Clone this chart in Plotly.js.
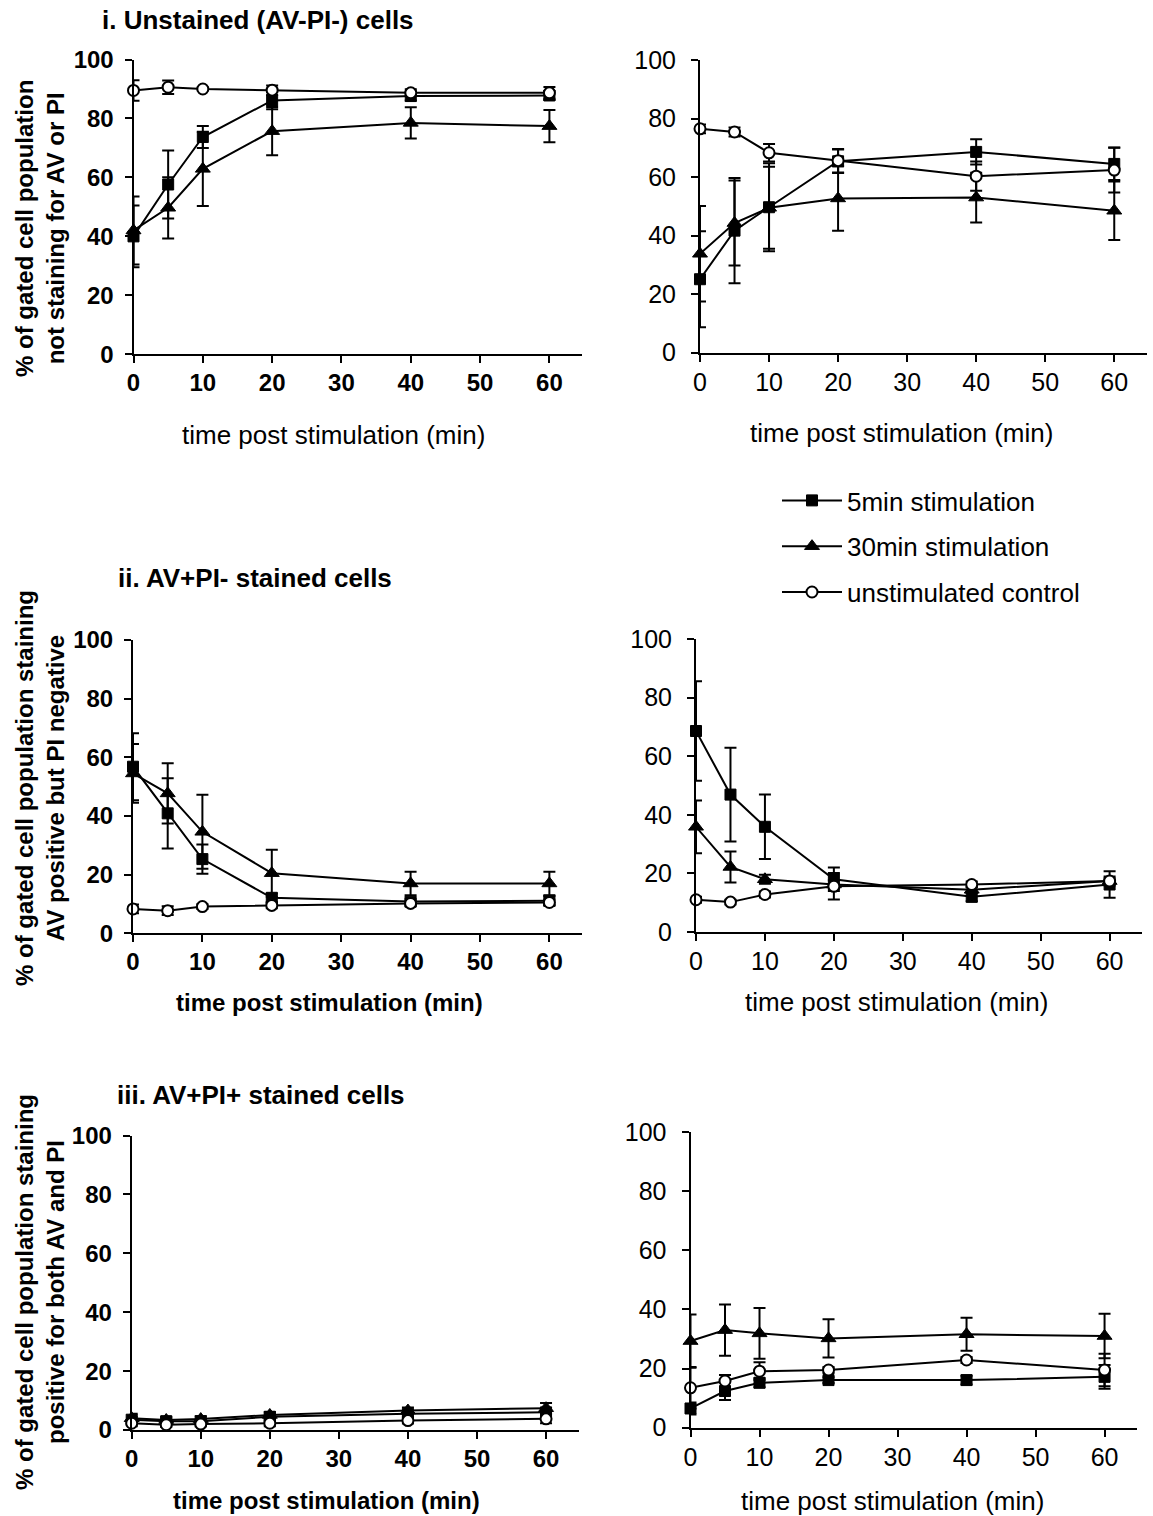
<!DOCTYPE html>
<html>
<head>
<meta charset="utf-8">
<script src="https://cdn.plot.ly/plotly-3.0.1.min.js"></script>
<style>html,body{margin:0;padding:0;background:#fff;}#chart{width:1153px;height:1516px;}</style>
</head>
<body>
<div id="chart"></div>
<script>
// ---- data ----
const times = [0, 5, 10, 20, 40, 60];
const seriesNames = ['5min stimulation', '30min stimulation', 'unstimulated control'];

// i. Unstained (AV-PI-) cells, left
const unstLeft5 = [40, 57.6, 73.7, 86.1, 87.6, 87.8];
const unstLeft5Err = [10.5, 11.5, 3.7, 3, 1.5, 1.5];
const unstLeft30 = [42, 49.7, 62.9, 75.7, 78.5, 77.4];
const unstLeft30Err = [11.5, 10.4, 12.6, 8.2, 5.3, 5.5];
const unstLeftCtl = [89.5, 90.6, 90, 89.6, 88.7, 88.7];
const unstLeftCtlErr = [3.5, 2.3, 0.5, 1.6, 1.2, 2];

// i. Unstained, right
const unstRight5 = [25.1, 41.7, 49.7, 65.4, 68.6, 64.5];
const unstRight5Err = [16.4, 18, 15, 4, 4.3, 5.5];
const unstRight30 = [33.8, 44.3, 49.5, 52.7, 53, 48.5];
const unstRight30Err = [16.3, 14.5, 14, 11, 8.5, 10];
const unstRightCtl = [76.5, 75.4, 68.3, 65.6, 60.3, 62.4];
const unstRightCtlErr = [1.5, 1.5, 3, 4, 5, 7.7];

// ii. AV+PI- stained cells, left
const avLeft5 = [56.8, 40.9, 25.3, 12.1, 10.8, 11.1];
const avLeft5Err = [11.4, 12, 5, 1.5, 1, 1.5];
const avLeft30 = [54.5, 47.7, 34.6, 20.5, 17, 17];
const avLeft30Err = [10, 10.3, 12.6, 8, 4, 4];
const avLeftCtl = [8.3, 7.7, 9.1, 9.5, 10.2, 10.5];
const avLeftCtlErr = [1.5, 1.5, 0.8, 1, 1, 1];

// ii. AV+PI-, right
const avRight5 = [68.6, 46.9, 35.9, 18.0, 12.0, 16.2];
const avRight5Err = [17, 16, 11, 4, 1.5, 4.5];
const avRight30 = [35.9, 22.2, 18.0, 16.2, 14.4, 17.4];
const avRight30Err = [9, 5.3, 1.5, 1.5, 1, 1.5];
const avRightCtl = [11.0, 10.2, 12.8, 15.6, 16.2, 17.4];
const avRightCtlErr = [1, 0.8, 1, 4.5, 1, 1];

// iii. AV+PI+ stained cells, left
const bothLeft5 = [3.5, 3, 3, 4.5, 5.5, 6];
const bothLeft5Err = [1, 0.8, 0.8, 1, 1, 1.5];
const bothLeft30 = [4.0, 3.4, 3.7, 5.1, 6.6, 7.4];
const bothLeft30Err = [1.5, 1, 1, 1, 1, 1.8];
const bothLeftCtl = [2.3, 1.8, 2, 2.3, 3.2, 3.8];
const bothLeftCtlErr = [1, 0.8, 0.8, 1, 1, 1.5];

// iii. AV+PI+, right
const bothRight5 = [6.5, 12.4, 15.2, 16.1, 16.1, 17.2];
const bothRight5Err = [2, 3, 1.5, 1, 1.5, 4];
const bothRight30 = [29.3, 33.0, 31.9, 30.2, 31.6, 31.0];
const bothRight30Err = [9, 8.7, 8.6, 6.5, 5.6, 7.5];
const bothRightCtl = [13.5, 15.8, 19.1, 19.5, 22.9, 19.5];
const bothRightCtlErr = [7, 2, 3, 1, 1, 5.5];

const yTicks = [0, 20, 40, 60, 80, 100];
const xTicks = [0, 10, 20, 30, 40, 50, 60];

// ---- layout helpers ----
const W = 1153, H = 1516;
const FONT = 'Liberation Sans, Arial, Helvetica, sans-serif';
const panels = [
  {x: [133.5, 582], y: [59.5, 354.3], d: [unstLeft5, unstLeft5Err, unstLeft30, unstLeft30Err, unstLeftCtl, unstLeftCtlErr], bold: true},
  {x: [700, 1146.7], y: [60, 352.7], d: [unstRight5, unstRight5Err, unstRight30, unstRight30Err, unstRightCtl, unstRightCtlErr], bold: false},
  {x: [133, 582], y: [640, 933.3], d: [avLeft5, avLeft5Err, avLeft30, avLeft30Err, avLeftCtl, avLeftCtlErr], bold: true},
  {x: [696, 1142], y: [639, 932], d: [avRight5, avRight5Err, avRight30, avRight30Err, avRightCtl, avRightCtlErr], bold: false},
  {x: [131.7, 578.5], y: [1135.5, 1430], d: [bothLeft5, bothLeft5Err, bothLeft30, bothLeft30Err, bothLeftCtl, bothLeftCtlErr], bold: true},
  {x: [690.5, 1137], y: [1132, 1427.7], d: [bothRight5, bothRight5Err, bothRight30, bothRight30Err, bothRightCtl, bothRightCtlErr], bold: false}
];

const markerStyles = [
  {symbol: 'square', size: 11, color: '#000', line: {color: '#000', width: 1}},
  {symbol: 'triangle-up', size: 13, color: '#000', line: {color: '#000', width: 1}},
  {symbol: 'circle', size: 11, color: '#fff', line: {color: '#000', width: 2}}
];

const traces = [];
const layout = {
  width: W, height: H,
  margin: {l: 0, r: 0, t: 0, b: 0},
  paper_bgcolor: '#fff', plot_bgcolor: 'rgba(0,0,0,0)',
  font: {family: FONT, color: '#000'},
  showlegend: true,
  legend: {
    x: 777 / W, xanchor: 'left', y: 1 - 477 / H, yanchor: 'top',
    font: {family: FONT, size: 26, color: '#000'},
    itemwidth: 60, traceorder: 'grouped', tracegroupgap: 9,
    bgcolor: 'rgba(0,0,0,0)', borderwidth: 0
  },
  annotations: []
};

panels.forEach((p, i) => {
  const n = i + 1;
  const xa = n === 1 ? 'x' : 'x' + n;
  const ya = n === 1 ? 'y' : 'y' + n;
  for (let s = 0; s < 3; s++) {
    traces.push({
      type: 'scatter', mode: 'lines+markers',
      x: times, y: p.d[2 * s],
      error_y: {type: 'data', array: p.d[2 * s + 1], visible: true, color: '#000', thickness: 2, width: 6},
      line: {color: '#000', width: 2},
      marker: markerStyles[s],
      name: seriesNames[s],
      legendgroup: 'g' + s,
      showlegend: i === 0,
      cliponaxis: false,
      xaxis: xa, yaxis: ya
    });
  }
  const tickFont = {family: FONT, size: p.bold ? 24 : 25, color: '#000', weight: p.bold ? 'bold' : 'normal'};
  layout['xaxis' + (n === 1 ? '' : n)] = {
    domain: [p.x[0] / W, p.x[1] / W], range: [0, 64.7], anchor: ya,
    showgrid: false, zeroline: false, showline: true, linecolor: '#000', linewidth: 2,
    ticks: 'outside', ticklen: 7, tickwidth: 2, tickcolor: '#000',
    tickmode: 'array', tickvals: xTicks, ticktext: xTicks.map(String),
    tickfont: tickFont, ticklabelstandoff: -1, fixedrange: true
  };
  layout['yaxis' + (n === 1 ? '' : n)] = {
    domain: [1 - p.y[1] / H, 1 - p.y[0] / H], range: [0, 100], anchor: xa,
    showgrid: false, zeroline: false, showline: true, linecolor: '#000', linewidth: 2,
    ticks: 'outside', ticklen: 7, tickwidth: 2, tickcolor: '#000',
    tickmode: 'array', tickvals: yTicks, ticktext: yTicks.map(String),
    tickfont: tickFont, ticklabelstandoff: p.bold ? 6 : 10, fixedrange: true
  };
});

function ann(text, xpx, ypx, opts) {
  return Object.assign({
    text: text, xref: 'paper', yref: 'paper', x: xpx / W, y: 1 - ypx / H,
    showarrow: false, xanchor: 'center', yanchor: 'middle',
    font: {family: FONT, size: 26, color: '#000'}
  }, opts || {});
}

// panel titles
const titleFont = {family: FONT, size: 26, color: '#000', weight: 'bold'};
layout.annotations.push(ann('i. Unstained (AV-PI-) cells', 100, 20, {xanchor: 'left', font: titleFont}));
layout.annotations.push(ann('ii. AV+PI- stained cells', 116, 578, {xanchor: 'left', font: titleFont}));
layout.annotations.push(ann('iii. AV+PI+ stained cells', 115, 1095, {xanchor: 'left', font: titleFont}));

// x axis titles
const xTitle = 'time post stimulation (min)';
layout.annotations.push(ann(xTitle, 333, 435));
layout.annotations.push(ann(xTitle, 901, 433));
layout.annotations.push(ann(xTitle, 329, 1002, {font: {family: FONT, size: 24, color: '#000', weight: 'bold'}}));
layout.annotations.push(ann(xTitle, 896, 1002));
layout.annotations.push(ann(xTitle, 326, 1500, {font: {family: FONT, size: 24, color: '#000', weight: 'bold'}}));
layout.annotations.push(ann(xTitle, 892, 1501));

// y axis titles
const yFont = {family: FONT, size: 24, color: '#000', weight: 'bold'};
layout.annotations.push(ann('% of gated cell population<br>not staining for AV or PI', 40, 229, {textangle: -90, font: yFont}));
layout.annotations.push(ann('% of gated cell population staining<br>AV positive but PI negative', 40, 788, {textangle: -90, font: yFont}));
layout.annotations.push(ann('% of gated cell population staining<br>positive for both AV and PI', 40, 1292, {textangle: -90, font: yFont}));

Plotly.newPlot('chart', traces, layout, {staticPlot: true, displayModeBar: false});
</script>
</body>
</html>
